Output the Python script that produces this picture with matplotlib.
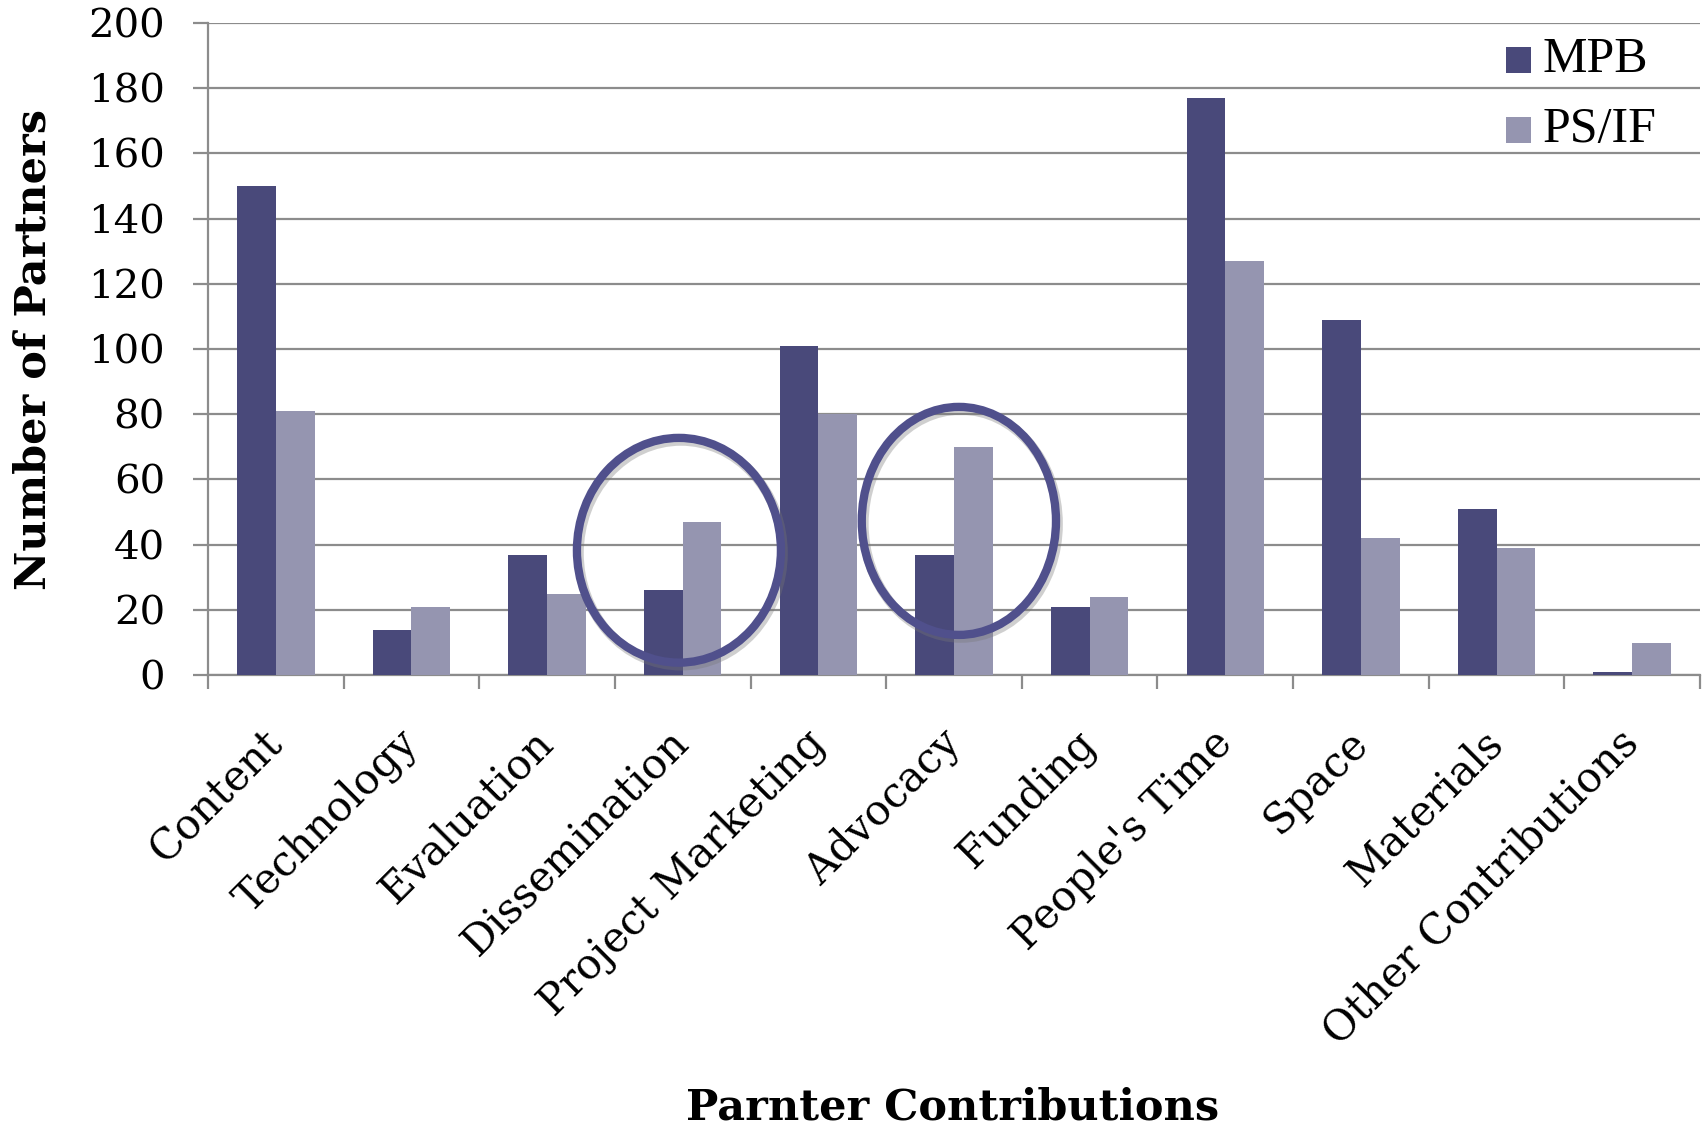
import matplotlib
matplotlib.use("Agg")
import matplotlib.pyplot as plt
from matplotlib.patches import Ellipse, Rectangle
import matplotlib.transforms as mtransforms
import numpy as np

categories = ["Content", "Technology", "Evaluation", "Dissemination", "Project Marketing",
              "Advocacy", "Funding", "People's Time", "Space", "Materials", "Other Contributions"]
mpb = [150, 14, 37, 26, 101, 37, 21, 177, 109, 51, 1]
psif = [81, 21, 25, 47, 80, 70, 24, 127, 42, 39, 10]
series_names = ["MPB", "PS/IF"]
yticks = [0, 20, 40, 60, 80, 100, 120, 140, 160, 180, 200]

c_mpb = "#49497A"
c_ps = "#9595B0"
c_circle = "#50508C"
c_grid = "#8C8C8C"

fig = plt.figure(figsize=(17.02, 11.27), dpi=100)
ax = fig.add_axes([208/1702, 1 - 675.2/1127, 1492/1702, (675.2 - 22.8)/1127])

x = np.arange(len(categories))
w = 1/3.5
ax.bar(x - w/2, mpb, w, color=c_mpb, zorder=3, label=series_names[0])
ax.bar(x + w/2, psif, w, color=c_ps, zorder=3, label=series_names[1])

ax.set_xlim(-0.5, len(categories) - 0.5)
ax.set_ylim(0, 200)
ax.set_yticks(yticks)
ax.set_yticklabels([str(t) for t in yticks], fontfamily="DejaVu Serif", fontsize=29)
ax.yaxis.grid(True, color=c_grid, linewidth=1.6, zorder=0)
ax.set_axisbelow(True)

for s in ["top", "right"]:
    ax.spines[s].set_visible(False)
for s in ["left", "bottom"]:
    ax.spines[s].set_color(c_grid)
    ax.spines[s].set_linewidth(1.6)

ax.tick_params(axis="y", length=11, width=1.6, color=c_grid, pad=20)
ax.set_xticks(x)
ax.set_xticklabels(categories, rotation=45, ha="right", va="center",
                   rotation_mode="anchor", fontfamily="DejaVu Serif", fontsize=30)
ax.tick_params(axis="x", which="major", length=0, pad=44)
ax.set_xticks(np.arange(len(categories) + 1) - 0.5, minor=True)
ax.tick_params(axis="x", which="minor", length=10, width=1.6, color=c_grid)

ax.set_ylabel("Number of Partners", fontfamily="DejaVu Serif", fontweight="bold", fontsize=31,
              va="center")
ax.yaxis.set_label_coords(-0.117, 0.5)
ax.set_xlabel("Parnter Contributions", fontfamily="DejaVu Serif", fontweight="bold", fontsize=31,
              va="center")
ax.xaxis.set_label_coords(0.499, -0.662)

# annotation ellipses
ellipses = [(2.972, 38.3, 1.504, 68.9), (5.036, 47.3, 1.432, 69.9)]
shadow = mtransforms.offset_copy(ax.transData, fig=fig, x=2, y=-3, units="dots")
for cx, cy, ew, eh in ellipses:
    ax.add_patch(Ellipse((cx, cy), ew, eh, fill=False, edgecolor="#777777", alpha=0.35,
                         linewidth=7, zorder=4, transform=shadow))
    ax.add_patch(Ellipse((cx, cy), ew, eh, fill=False, edgecolor=c_circle,
                         linewidth=6, zorder=5))

# legend drawn manually in pixel coords
for i, (name, col) in enumerate(zip(series_names, [c_mpb, c_ps])):
    yc = 60 + i * 70
    fig.patches.append(Rectangle((1506/1702, 1 - (yc + 12.5)/1127), 25/1702, 25/1127,
                                 transform=fig.transFigure, facecolor=col, edgecolor="none"))
    fig.text(1543/1702, 1 - yc/1127, name, fontfamily="Liberation Serif", fontsize=36,
             ha="left", va="center")

fig.savefig("out.png", dpi=100)
